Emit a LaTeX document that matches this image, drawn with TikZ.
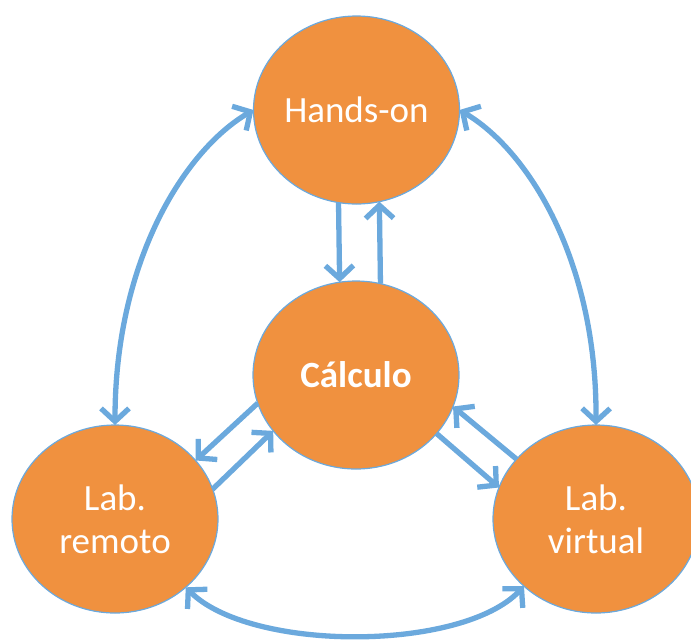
\documentclass[tikz,border=0pt]{standalone}
\usepackage{fontspec}
\setmainfont{Carlito}
\usetikzlibrary{arrows.meta,shapes.geometric}
\definecolor{arrowblue}{HTML}{6BA9DD}
\definecolor{fillorange}{HTML}{F0913F}
\tikzset{
  bubble/.style={ellipse, draw=arrowblue, line width=1.2pt, fill=fillorange,
    minimum width=206pt, minimum height=188pt, inner sep=0pt, outer sep=0pt},
  txt/.style={text=white, align=center, font=\fontsize{37}{43}\selectfont},
  conn/.style={draw=arrowblue, line width=5.3pt,
    arrows={-Straight Barb[length=13pt,width=28pt]}},
  biconn/.style={draw=arrowblue, line width=5.3pt,
    arrows={Straight Barb[length=13pt,width=28pt]-Straight Barb[length=13pt,width=28pt]}}
}
\begin{document}
\begin{tikzpicture}[x=1pt,y=-1pt]
\useasboundingbox (0,0) rectangle (691,641);
\node[bubble, label={[txt]center:Hands-on}] (ho) at (356.5,110) {};
\node[bubble, label={[txt,font=\fontsize{37}{43}\selectfont\bfseries]center:Cálculo}] (ca) at (356,375) {};
\node[bubble, label={[txt]center:Lab.\\remoto}] (lr) at (115,519) {};
\node[bubble, label={[txt]center:Lab.\\virtual}] (lv) at (596,519) {};

% curved double arrows
\draw[biconn] (lr.north) .. controls (115,260) and (185,150) .. (ho.west);
\draw[biconn] (lv.north) .. controls (597,260) and (528,150) .. (ho.east);
\draw[biconn] (lr.316.6) .. controls (250,652) and (462,652) .. (lv.223.7);

% straight arrows
\draw[conn] (ho.259.6) -- (ca.100.1);
\draw[conn] (ca.75.3) -- (ho.284.4);
\draw[conn] (ca.196) -- (lr.36.8);
\draw[conn] (lr.17) -- (ca.214.8);
\draw[conn] (ca.324.7) -- (lv.162.7);
\draw[conn] (lv.143.7) -- (ca.342.8);
\end{tikzpicture}
\end{document}
